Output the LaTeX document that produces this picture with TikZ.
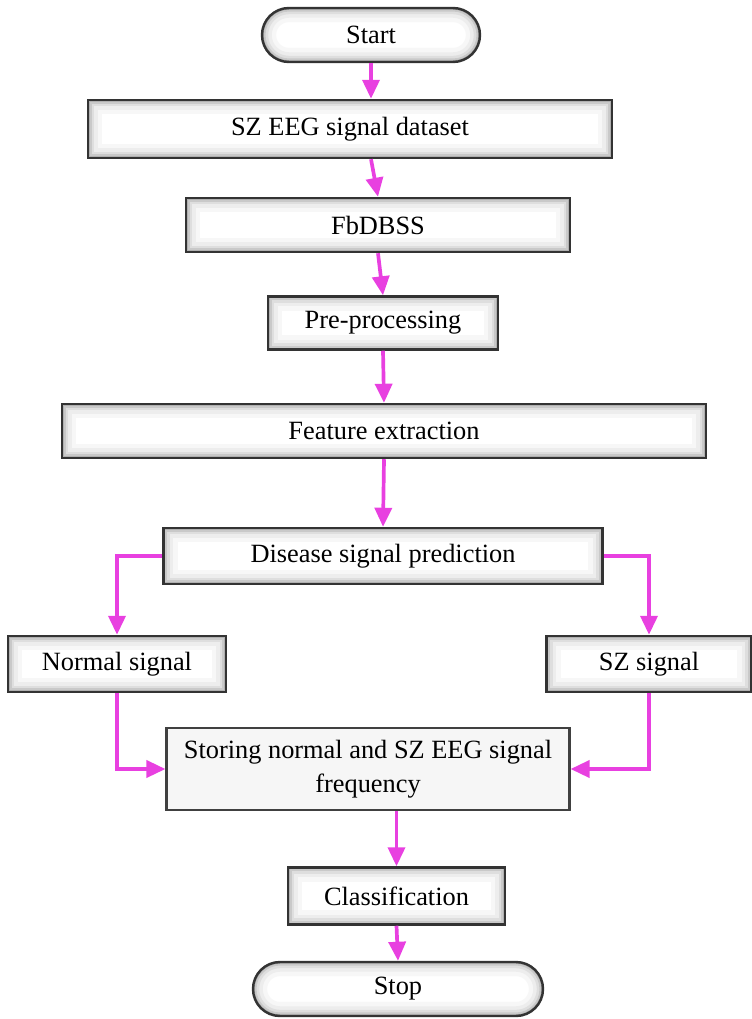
\documentclass[tikz,border=0pt]{standalone}
\usepackage{fontspec}
\setmainfont{Liberation Serif}
\usetikzlibrary{positioning,arrows.meta}
\definecolor{flowpink}{RGB}{232,64,224}
\tikzset{
  glow/.style={path picture={
    \foreach \w/\c in {16pt/6,11pt/14,7pt/26,4pt/42,2pt/62}
      \draw[gray!\c,line width=\w,rounded corners=#1] (path picture bounding box.south west) rectangle (path picture bounding box.north east);}},
  proc/.style={draw=black!80,line width=1.4pt,fill=white,align=center,glow=0pt},
  term/.style={draw=black!80,line width=1.4pt,fill=white,align=center,rounded corners=0.54cm,glow=0.54cm},
  store/.style={draw=black!75,line width=1.2pt,fill=gray!7,align=center},
  flw/.style={draw=flowpink,line width=2.1pt,-{Triangle[length=3.8mm,width=3.4mm]}},
}

\begin{document}
\begin{tikzpicture}[font=\fontsize{15}{19}\selectfont]
  \useasboundingbox (0,0) rectangle (15.04,-20.38);
  \node[term,minimum width=4.36cm,minimum height=1.08cm] (start) at (7.42,-0.70) {Start};
  \node[proc,minimum width=10.48cm,minimum height=1.16cm] (data) at (7.00,-2.58) {SZ EEG signal dataset};
  \node[proc,minimum width=7.68cm,minimum height=1.08cm] (fbd) at (7.56,-4.50) {FbDBSS};
  \node[proc,minimum width=4.60cm,minimum height=1.06cm] (pre) at (7.66,-6.46) {Pre-processing};
  \node[proc,minimum width=12.88cm,minimum height=1.08cm] (feat) at (7.68,-8.62) {Feature extraction};
  \node[proc,minimum width=8.78cm,minimum height=1.12cm] (dis) at (7.66,-11.12) {Disease signal prediction};
  \node[proc,minimum width=4.36cm,minimum height=1.12cm] (norm) at (2.34,-13.28) {Normal signal};
  \node[proc,minimum width=4.10cm,minimum height=1.12cm] (sz) at (12.98,-13.28) {SZ signal};
  \node[store,minimum width=8.06cm,minimum height=1.64cm] (stor) at (7.36,-15.38) {Storing normal and SZ EEG signal\\ frequency};
  \node[proc,minimum width=4.34cm,minimum height=1.14cm] (cls) at (7.93,-17.92) {Classification};
  \node[term,minimum width=5.80cm,minimum height=1.08cm] (stop) at (7.96,-19.78) {Stop};

  \draw[flw] (start.south) -- (data.north -| start.south);
  \draw[flw] (data.south -| start.south) -- (fbd.north);
  \draw[flw] (fbd.south) -- (pre.north);
  \draw[flw] (pre.south) -- (feat.north);
  \draw[flw] (feat.south) -- (dis.north);
  \draw[flw] (dis.west) -| (norm.north);
  \draw[flw] (dis.east) -| (sz.north);
  \draw[flw] (norm.south) |- (stor.west);
  \draw[flw] (sz.south) |- (stor.east);
  \draw[flw] (stor.south -| cls.north) -- (cls.north);
  \draw[flw] (cls.south) -- (stop.north);
\end{tikzpicture}
\end{document}
